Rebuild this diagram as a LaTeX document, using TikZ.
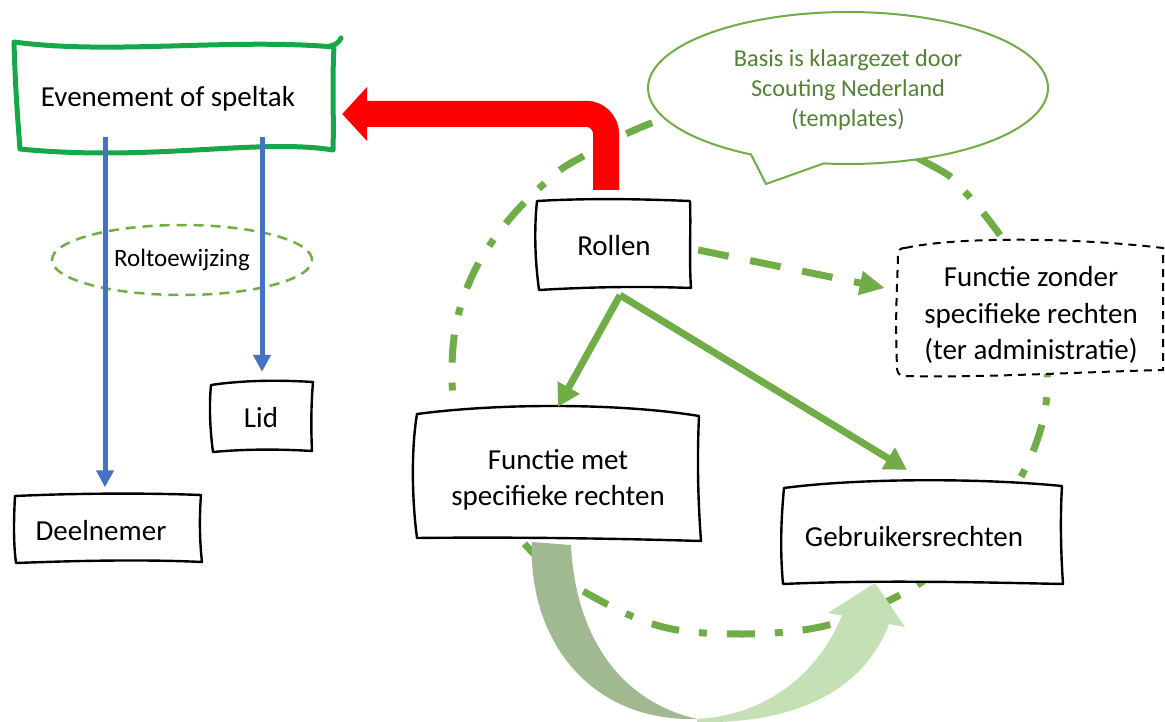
\documentclass[tikz,border=0pt]{standalone}
\usepackage{fontspec}
\setmainfont{Carlito}
\usetikzlibrary{arrows.meta,shapes.geometric,calc}
\definecolor{evgreen}{RGB}{22,168,72}
\definecolor{ogreen}{RGB}{112,173,71}
\definecolor{dgreen}{RGB}{84,130,53}
\definecolor{oblue}{RGB}{68,114,196}
\definecolor{arrdark}{RGB}{160,185,145}
\definecolor{arrlight}{RGB}{197,224,180}
\begin{document}
\begin{tikzpicture}[x=1pt,y=-1pt,
 sketch/.style={draw=black, line width=2.4pt, fill=white, line join=round},
 lbl/.style={font=\fontsize{29}{36.5}\selectfont, align=center, inner sep=0pt},
 bluearrow/.style={draw=oblue, line width=5pt, -{Triangle[length=17pt,width=17pt]}},
 greenarrow/.style={draw=ogreen, line width=7pt, -{Triangle[length=22pt,width=24pt]}},
 greendash/.style={draw=ogreen, line width=7pt, dash pattern=on 31pt off 22pt, -{Triangle[length=25pt,width=23pt]}},
 dashdot/.style={draw=ogreen, line width=7pt, dash pattern=on 28pt off 20pt on 8pt off 20pt},
 redarrow/.style={draw=red, line width=26pt, rounded corners=20pt, -{Triangle[length=25pt,width=53pt]}},
]
\useasboundingbox (0,0) rectangle (1165,722);
\clip (0,0) rectangle (1165,722);
\fill[white] (0,0) rectangle (1165,722);

% big dash-dot loop
\draw[dashdot] plot[smooth cycle, tension=0.6] coordinates {
 (790,100) (927,163) (965,192) (1010,250) (1035,305) (1047,367) (1043,420)
 (1022,475) (985,530) (935,573) (880,605) (820,627) (743,634) (663,627)
 (590,595) (535,555) (485,490) (458,420) (452,375) (457,320) (476,268)
 (507,222) (545,183) (580,158) (670,117)};

% callout
\filldraw[fill=white, draw=ogreen, line width=2pt]
 plot[domain=119:457, samples=120] ({848+200*cos(\x)},{88+76*sin(\x)}) -- (766,184) -- cycle;

% box outlines
\path[sketch] (537,201) .. controls (590,198) and (640,199) .. (690,201)
 .. controls (691,230) and (689,260) .. (691,288)
 .. controls (640,286) and (590,287) .. (539,290)
 .. controls (535,260) and (534,230) .. (537,201) -- cycle;
\path[sketch] (417,414) .. controls (500,403) and (620,403) .. (699,416)
 .. controls (697,460) and (698,500) .. (701,541)
 .. controls (600,538) and (500,537) .. (417,538)
 .. controls (412,500) and (411,450) .. (417,414) -- cycle;
\path[sketch] (784,488) .. controls (860,478) and (980,478) .. (1062,486)
 .. controls (1060,520) and (1061,555) .. (1063,584)
 .. controls (970,582) and (870,580) .. (783,584)
 .. controls (780,550) and (781,520) .. (784,488) -- cycle;
\path[sketch] (211,385) .. controls (245,380) and (280,380) .. (313,382)
 .. controls (311,405) and (311,430) .. (312,451)
 .. controls (280,449) and (245,449) .. (213,452)
 .. controls (210,430) and (209,405) .. (211,385) -- cycle;
\path[sketch] (15,496) .. controls (80,493) and (150,493) .. (201,495)
 .. controls (199,520) and (200,545) .. (202,562)
 .. controls (140,559) and (70,561) .. (16,563)
 .. controls (13,540) and (14,515) .. (15,496) -- cycle;
\path[draw=black, line width=2pt, fill=white, dash pattern=on 8pt off 6pt]
 (905,248) .. controls (960,236) and (1080,238) .. (1163,248) -- (1163,370)
 .. controls (1080,372) and (980,378) .. (905,376)
 .. controls (898,376) and (897,372) .. (897,366)
 .. controls (895,320) and (897,290) .. (898,256)
 .. controls (898,250) and (900,248) .. (905,248) -- cycle;
% Evenement box
\draw[evgreen, line width=5pt, line join=round, fill=white]
 (14,42) .. controls (110,55) and (230,38) .. (334,47)
 .. controls (332,80) and (334,120) .. (333,150)
 .. controls (260,138) and (150,162) .. (20,149)
 .. controls (17,110) and (15,80) .. (14,42) -- cycle;
\draw[evgreen, line width=5pt, line cap=round] (330,46) .. controls (336,45) and (339,42) .. (341,38);

% curved arrow
\fill[arrdark] (532,542) -- (571,545) .. controls (575,630) and (615,700) .. (697,719)
 .. controls (590,722) and (528,640) .. (532,542) -- cycle;
\fill[arrlight] (697,719) .. controls (770,715) and (820,670) .. (842,615.5)
 -- (828,613) -- (875,583) -- (905,627) -- (889,624)
 .. controls (860,700) and (780,724) .. (697,722) -- cycle;

% nodes
\node[lbl, minimum width=320pt, minimum height=110pt] (ev) at (168,99) {Evenement of speltak};
\node[lbl, minimum width=187pt, minimum height=67pt] (dn) at (101,531) {Deelnemer};
\node[lbl, minimum width=100pt, minimum height=68pt] (lid) at (261,418) {Lid};
\node[lbl, minimum width=153pt, minimum height=88pt] (rol) at (614,246) {Rollen};
\node[lbl, minimum width=285pt, minimum height=130pt] (fm) at (558,480) {Functie met\\specifieke rechten};
\node[lbl, minimum width=280pt, minimum height=100pt] (gb) at (914,537) {Gebruikersrechten};
\node[lbl, minimum width=265pt, minimum height=133pt] (fz) at (1031,315) {Functie zonder\\specifieke rechten\\(ter administratie)};
\node[font=\fontsize{24.3}{30}\selectfont, align=center, text=dgreen, inner sep=0pt] (cal) at (848,90)
 {Basis is klaargezet door\\Scouting Nederland\\(templates)};
\node[ellipse, draw=ogreen, line width=2.5pt, dash pattern=on 10pt off 7pt,
 minimum width=260pt, minimum height=70pt, inner sep=0pt, font=\fontsize{25}{30}\selectfont] (rt) at (182,260) {Roltoewijzing};

% connectors
\coordinate (rc) at ($(rol.north)+(-8,-88)$);
\coordinate (redtip) at ($(ev.east)+(14,15)$);
\draw[redarrow] ($(rol.north)+(-8,-12)$) -- (rc) -- (redtip);
\draw[bluearrow] ($(ev.south)+(-63,-17)$) -- ($(dn.north)+(4,-10)$);
\draw[bluearrow] ($(ev.south)+(94,-17)$) -- ($(lid.north)+(1,-12)$);
\draw[greenarrow] ($(rol.south)+(6,5)$) -- ($(fm.north)+(0,-8)$);
\draw[greenarrow] ($(rol.south)+(6,5)$) -- ($(gb.north)+(-7,-17)$);
\draw[greendash] ($(rol.east)+(7.5,4)$) -- ($(fz.west)+(-13.5,-27)$);
\end{tikzpicture}
\end{document}
